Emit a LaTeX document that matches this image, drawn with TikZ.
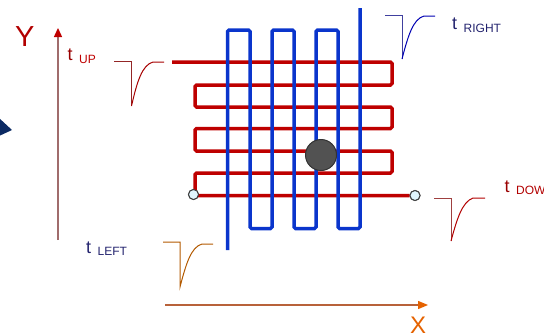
\documentclass[tikz,border=0pt]{standalone}
\usepackage{fontspec}
\setmainfont{Liberation Sans}
\usetikzlibrary{arrows.meta}
\definecolor{wred}{HTML}{BE0000}
\definecolor{wblue}{HTML}{0A35CC}
\definecolor{navy}{HTML}{0B2A63}
\definecolor{tnavy}{HTML}{23236E}
\definecolor{yaxis}{HTML}{A06C6C}
\definecolor{xaxis}{HTML}{B8623A}
\newcommand{\fs}[1]{\fontsize{#1}{#1}\selectfont}
\tikzset{
  x=1pt,y=-1pt,
  wire/.style={line width=3.5pt,rounded corners=1.5pt},
  terminal/.style={circle,draw=black!75,line width=1pt,fill=cyan!12,minimum size=10pt,inner sep=0pt},
  pulse/.style={line width=1pt},
  lab/.style={inner sep=0pt,anchor=base west},
}
\begin{document}
\begin{tikzpicture}
\useasboundingbox (0,0) rectangle (544,333);
\clip (0,0) rectangle (544,333);
% partial arrow head at the left edge
\fill[navy] (-1,118) -- (12,130) -- (-1,136) -- cycle;
% axes
\coordinate (yfrom) at (58,240);
\coordinate (yto) at (58,28);
\coordinate (xfrom) at (165,305);
\coordinate (xto) at (428,305);
\draw[yaxis,line width=1.2pt] (yfrom) -- (58,36);
\fill[red!75!black] (yto) -- (62.2,37) -- (53.8,37) -- cycle;
\draw[xaxis,line width=1.2pt] (xfrom) -- (420,305);
\fill[orange!85!red!90!black] (xto) -- (418,300.8) -- (418,309.2) -- cycle;
% terminals
\node[terminal] (tl) at (193.5,194.5) {};
\node[terminal] (tr) at (415,195.5) {};
\coordinate (redstart) at (172,62);
\coordinate (bluestart) at (227.5,250);
\coordinate (blueend) at (360,8);
% red serpentine
\draw[wred,wire] (redstart) -- (392,62) -- (392,85) -- (195,85) -- (195,107) -- (392,107) -- (392,128.5) -- (195,128.5) -- (195,151) -- (392,151) -- (392,173) -- (195,173) -- (195,195.5) -- (tr.west);
% blue serpentine
\draw[wblue,wire] (bluestart) -- (227.5,30) -- (250,30) -- (250,228.5) -- (272,228.5) -- (272,30) -- (294,30) -- (294,228.5) -- (316,228.5) -- (316,30) -- (338,30) -- (338,228.5) -- (360,228.5) -- (blueend);
% redraw terminals above wire ends
\node[terminal] at (tl) {};
\node[terminal] at (tr) {};
% sensing ball
\node[circle,draw=black!80,line width=1pt,fill=black!68,minimum size=31pt,inner sep=0pt] (ball) at (321,155) {};
% pulses
\draw[pulse,red!50!black!85] (114,61) -- (131.5,61) -- (131.5,106);
\draw[pulse,red!65!black] (131.5,106) .. controls (137,82) and (142,65) .. (153,62) -- (164,62);
\draw[pulse,blue!50!black!75] (385,15) -- (402,15) -- (402,59);
\draw[pulse,blue!70!black] (402,59) .. controls (408,36) and (413,19) .. (424,16) -- (435,16);
\draw[pulse,orange!70!black] (163,242) -- (180,242) -- (180,287) .. controls (186,264) and (191,247) .. (202,244) -- (213,244);
\draw[pulse,red!50!black!75] (434,198) -- (451,198) -- (451,241);
\draw[pulse,red!70!black] (451,241) .. controls (457,219) and (462,202) .. (473,198) -- (485,198);
% labels
\node[lab,red!70!black] (ylab) at (15,46) {\fs{29}Y};
\node[lab,orange!85!red!90!black] (xlab) at (410,333) {\fs{24}X};
\node[lab,red!60!black] (tup) at (67.5,60.5) {\fs{18}t};
\node[lab,red!75!black] (sup) at (79,63) {\fs{12}UP};
\node[lab,tnavy] (tright) at (452,29.5) {\fs{18}t};
\node[lab,tnavy] (sright) at (463.5,32) {\fs{12}RIGHT};
\node[lab,tnavy] (tleft) at (86,253) {\fs{18}t};
\node[lab,tnavy] (sleft) at (97.5,255) {\fs{12}LEFT};
\node[lab,red!60!black] (tdown) at (504.5,192) {\fs{18}t};
\node[lab,red!70!black] (sdown) at (516,194) {\fs{12}DOW};
\end{tikzpicture}
\end{document}
